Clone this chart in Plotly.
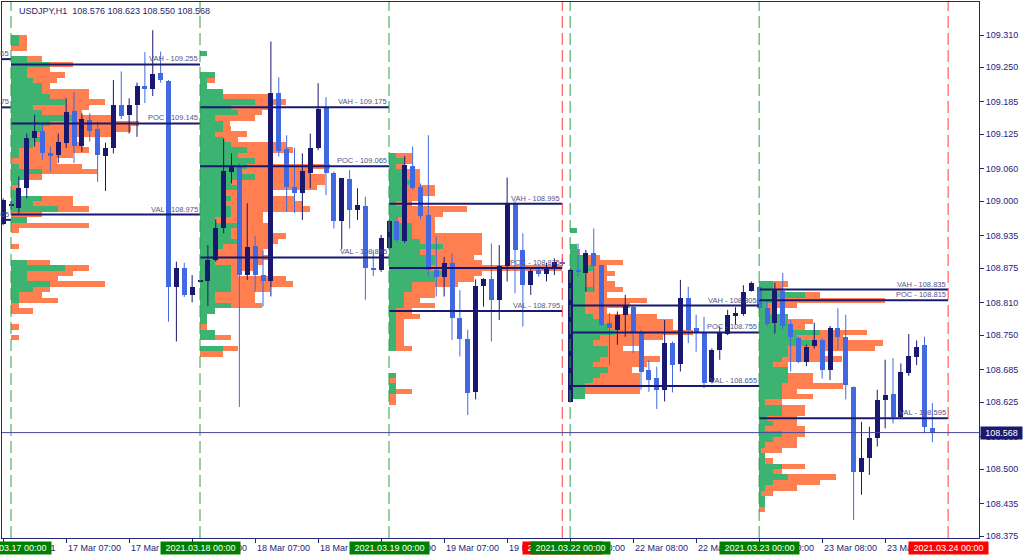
import plotly.graph_objects as go
import numpy as np

# ---------------- data ----------------
SYMBOL = "USDJPY,H1"
FIRST_BAR = -1          # bar index of first candle (0 = 2021.03.17 00:00)

bar_open = [108.957, 108.990, 108.987, 109.024, 109.117, 109.130, 109.089, 109.086, 109.108, 109.169,
            109.102, 109.151, 109.134, 109.085, 109.099, 109.179, 109.160, 109.179, 109.215, 109.210,
            109.240, 109.225, 108.839, 108.875, 108.825, 108.850, 108.850, 108.891, 108.949, 109.055,
            109.066, 108.862, 108.916, 108.862, 108.850, 109.201, 109.097, 109.027, 109.016, 109.053,
            109.099, 109.173, 109.052, 108.962, 109.041, 108.983, 108.991, 108.875, 108.872, 108.912,
            108.963, 108.926, 109.066, 109.027, 108.975, 108.872, 108.859, 108.884, 108.781, 108.742,
            108.643, 108.842, 108.854, 108.816, 108.878, 108.996, 108.908, 108.844, 108.871, 108.864,
            108.875, 108.886, 108.626, 108.872, 108.865, 108.903, 108.880, 108.772, 108.760, 108.788,
            108.803, 108.756, 108.685, 108.669, 108.648, 108.736, 108.696, 108.819, 108.763, 108.756,
            108.663, 108.722, 108.752, 108.786, 108.789, 108.833, 108.840, 108.800, 108.772, 108.833,
            108.771, 108.744, 108.700, 108.730, 108.741, 108.685, 108.763, 108.746, 108.653, 108.495,
            108.520, 108.557, 108.629, 108.640, 108.598, 108.680, 108.710, 108.732, 108.576]
bar_high = [109.005, 109.000, 109.046, 109.126, 109.161, 109.145, 109.102, 109.126, 109.192, 109.204,
            109.164, 109.164, 109.148, 109.109, 109.226, 109.242, 109.192, 109.221, 109.278, 109.319,
            109.279, 109.226, 108.887, 108.885, 108.862, 108.852, 108.918, 108.966, 109.117, 109.089,
            109.071, 108.996, 108.935, 108.909, 109.298, 109.231, 109.123, 109.099, 109.089, 109.126,
            109.220, 109.194, 109.055, 109.043, 109.058, 109.024, 109.008, 108.909, 108.937, 108.965,
            108.971, 109.084, 109.102, 109.033, 109.123, 108.934, 108.896, 108.903, 108.834, 108.760,
            108.854, 108.856, 108.921, 108.918, 109.044, 109.000, 108.940, 108.875, 108.878, 108.885,
            108.893, 108.893, 108.874, 108.921, 108.909, 108.949, 108.880, 108.791, 108.794, 108.825,
            108.806, 108.760, 108.704, 108.691, 108.778, 108.738, 108.853, 108.840, 108.788, 108.784,
            108.725, 108.766, 108.797, 108.802, 108.843, 108.850, 108.841, 108.816, 108.848, 108.866,
            108.778, 108.747, 108.732, 108.773, 108.744, 108.767, 108.800, 108.788, 108.654, 108.588,
            108.579, 108.648, 108.704, 108.707, 108.697, 108.752, 108.740, 108.747, 108.623]
bar_low = [108.955, 108.985, 108.977, 109.005, 109.102, 109.077, 109.055, 109.071, 109.099, 109.071,
           109.092, 109.111, 109.036, 109.019, 109.089, 109.153, 109.126, 109.120, 109.183, 109.196,
           109.221, 108.775, 108.738, 108.821, 108.811, 108.849, 108.804, 108.887, 108.940, 109.033,
           108.616, 108.853, 108.831, 108.803, 108.822, 109.083, 108.980, 108.978, 108.965, 109.024,
           109.095, 109.011, 108.949, 108.910, 108.949, 108.965, 108.816, 108.860, 108.868, 108.910,
           108.924, 108.922, 109.021, 108.966, 108.859, 108.822, 108.822, 108.741, 108.710, 108.601,
           108.630, 108.803, 108.738, 108.778, 108.850, 108.828, 108.766, 108.825, 108.859, 108.850,
           108.862, 108.878, 108.624, 108.859, 108.831, 108.831, 108.767, 108.694, 108.732, 108.747,
           108.716, 108.648, 108.644, 108.612, 108.626, 108.643, 108.682, 108.735, 108.719, 108.651,
           108.660, 108.704, 108.750, 108.769, 108.786, 108.831, 108.798, 108.766, 108.753, 108.761,
           108.682, 108.698, 108.692, 108.725, 108.669, 108.666, 108.722, 108.630, 108.405, 108.452,
           108.489, 108.542, 108.576, 108.585, 108.595, 108.674, 108.694, 108.567, 108.550]
bar_close = [109.002, 108.995, 109.024, 109.117, 109.130, 109.090, 109.085, 109.111, 109.167, 109.103,
             109.153, 109.131, 109.086, 109.099, 109.179, 109.158, 109.179, 109.215, 109.210, 109.237,
             109.226, 108.839, 108.875, 108.825, 108.839, 108.851, 108.891, 108.949, 109.056, 109.066,
             108.862, 108.915, 108.862, 108.850, 109.201, 109.094, 109.027, 109.016, 109.056, 109.100,
             109.171, 109.052, 108.962, 109.043, 108.983, 108.993, 108.875, 108.872, 108.931, 108.963,
             108.927, 109.067, 109.024, 108.972, 108.872, 108.859, 108.884, 108.781, 108.742, 108.641,
             108.842, 108.854, 108.816, 108.878, 108.997, 108.908, 108.844, 108.870, 108.864, 108.876,
             108.886, 108.884, 108.871, 108.867, 108.903, 108.878, 108.769, 108.763, 108.788, 108.806,
             108.756, 108.682, 108.666, 108.648, 108.736, 108.694, 108.819, 108.760, 108.756, 108.660,
             108.722, 108.753, 108.788, 108.792, 108.831, 108.848, 108.800, 108.771, 108.834, 108.767,
             108.747, 108.699, 108.727, 108.740, 108.685, 108.763, 108.747, 108.657, 108.495, 108.520,
             108.557, 108.628, 108.638, 108.598, 108.682, 108.711, 108.728, 108.578, 108.568]

# time axis labels (bar index -> text)
tick_bars = [7, 15, 23, 31, 39, 47, 55, 63, 71, 79, 87, 95, 103, 111]
tick_texts = ["17 Mar 07:00", "17 Mar 15:00", "17 Mar 23:00", "18 Mar 07:00", "18 Mar 15:00",
              "18 Mar 23:00", "19 Mar 07:00", "19 Mar 15:00", "22 Mar 00:00", "22 Mar 08:00",
              "22 Mar 16:00", "23 Mar 00:00", "23 Mar 08:00", "23 Mar 16:00"]
first_label = "16 Mar 2021"
session_bars = [0, 24, 48, 71, 95]
session_texts = ["2021.03.17 00:00", "2021.03.18 00:00", "2021.03.19 00:00",
                 "2021.03.22 00:00", "2021.03.23 00:00"]
end_bars = [70, 119]
end_texts = ["2021.03.19 22:00", "2021.03.24 00:00"]

# price axis labels
price_ticks = [109.310, 109.250, 109.185, 109.125, 109.060, 109.000, 108.935, 108.875,
               108.810, 108.750, 108.685, 108.625, 108.560, 108.500, 108.435, 108.375]

# volume profiles: rows of 0.01 from top level downward, green (buy) and total volume
prof17_green = [8, 8, 0, 0, 16, 39, 16, 16, 22, 31, 31, 39, 54, 22, 31, 62, 39, 31, 22, 31,
                22, 8, 8, 0, 8, 31, 16, 8, 0, 8, 31, 22, 47, 0, 16, 0, 0, 0, 0, 0,
                0, 0, 16, 54, 16, 16, 39, 22, 8, 8, 0, 0, 0, 0, 0, 0, 0]
prof17_total = [16, 16, 16, 0, 31, 62, 39, 54, 46, 39, 78, 78, 94, 78, 71, 101, 128, 120, 102, 62,
                71, 78, 62, 46, 71, 86, 31, 8, 8, 8, 62, 62, 78, 31, 16, 78, 8, 0, 0, 8,
                0, 0, 39, 78, 62, 47, 94, 39, 31, 47, 8, 22, 0, 0, 8, 0, 8]
prof18_green = [7, 0, 0, 0, 15, 7, 7, 23, 23, 55, 31, 38, 15, 23, 23, 15, 23, 31, 47, 38,
                55, 47, 38, 55, 31, 38, 23, 31, 23, 31, 31, 15, 38, 31, 31, 38, 23, 15, 15, 15,
                31, 31, 31, 31, 31, 15, 15, 31, 15, 7, 7, 0, 15, 15, 0, 23, 0]
prof18_total = [7, 0, 0, 0, 15, 15, 7, 23, 70, 86, 70, 62, 55, 30, 31, 47, 38, 86, 93, 70,
                70, 130, 110, 125, 125, 117, 70, 94, 103, 110, 63, 63, 70, 70, 86, 78, 70, 63, 70, 63,
                55, 38, 86, 93, 70, 55, 55, 62, 15, 7, 7, 7, 15, 31, 0, 38, 23]
prof19_green = [7, 15, 7, 15, 15, 23, 15, 15, 15, 7, 15, 15, 7, 23, 23, 23, 31, 54, 31, 46,
                46, 38, 54, 46, 23, 23, 15, 15, 15, 7, 7, 7, 7, 7, 7, 7, 7, 0, 0, 0,
                0, 7, 0, 7, 7, 0, 0]
prof19_total = [23, 23, 15, 31, 31, 31, 46, 46, 31, 23, 78, 54, 46, 46, 46, 93, 93, 93, 93, 85,
                93, 173, 93, 85, 69, 46, 46, 31, 46, 23, 31, 15, 15, 15, 15, 15, 23, 0, 0, 0,
                0, 7, 7, 7, 23, 7, 7]
prof22_green = [7, 0, 0, 7, 7, 15, 15, 23, 15, 15, 15, 23, 15, 15, 15, 15, 23, 30, 38, 45,
                30, 23, 38, 38, 30, 23, 38, 30, 23, 15, 15, 15]
prof22_total = [7, 0, 0, 7, 10, 30, 53, 37, 45, 37, 45, 53, 37, 77, 60, 37, 87, 103, 103, 123,
                93, 70, 53, 70, 90, 77, 62, 70, 70, 70, 70, 15]
prof23_green = [14, 14, 46, 14, 8, 8, 29, 29, 29, 61, 38, 54, 29, 29, 23, 14, 29, 29, 29, 23,
                23, 23, 6, 23, 23, 8, 14, 6, 23, 14, 6, 1, 6, 6, 23, 14, 29, 14, 6, 1,
                6, 6, 0]
prof23_total = [29, 23, 61, 126, 38, 14, 29, 54, 46, 108, 84, 124, 116, 61, 83, 29, 29, 54, 54, 84,
                38, 54, 23, 46, 46, 38, 38, 46, 46, 38, 38, 23, 6, 14, 46, 23, 77, 61, 38, 14,
                6, 6, 6]

profiles = [
    dict(start=0, end=24, top=109.305, green=prof17_green, total=prof17_total,
         vah=109.255, poc=109.145, val=108.975),
    dict(start=24, end=48, top=109.275, green=prof18_green, total=prof18_total,
         vah=109.175, poc=109.065, val=108.895),
    dict(start=48, end=70, top=109.085, green=prof19_green, total=prof19_total,
         vah=108.995, poc=108.875, val=108.795),
    dict(start=71, end=95, top=108.945, green=prof22_green, total=prof22_total,
         vah=108.805, poc=108.755, val=108.655),
    dict(start=95, end=119, top=108.845, green=prof23_green, total=prof23_total,
         vah=108.835, poc=108.815, val=108.595),
]
# previous session (16 Mar) levels, only their right ends are on the chart
prev_levels = [("VAH", 109.265), ("POC", 109.175), ("VAL", 108.965)]

# ---------------- styling ----------------
NAVY = "#191970"
BLUE = "#4169e1"
GREEN = "#3cb371"
CORAL = "#ff7f50"
AXIS = "#24247a"
LBL = "#555585"
FONT = "Liberation Sans, Arial, sans-serif"
PX_PER_BAR = 7.875
VOL_TO_BARS = 1.0 / PX_PER_BAR
ROW = 0.01
BODY_W = 5.0 / PX_PER_BAR

o = np.array(bar_open); h = np.array(bar_high); l = np.array(bar_low); c = np.array(bar_close)
idx = np.arange(len(o)) + FIRST_BAR
bull = c >= o

fig = go.Figure()

# volume profiles
for p in profiles:
    n = len(p["total"])
    levels = np.round(p["top"] - ROW * np.arange(n), 3)
    tot = np.array(p["total"], float) * VOL_TO_BARS
    grn = np.array(p["green"], float) * VOL_TO_BARS
    fig.add_trace(go.Bar(orientation="h", y=levels, x=tot, base=p["start"], width=ROW * 1.02,
                         marker=dict(color=CORAL, line=dict(width=0)), hoverinfo="skip"))
    fig.add_trace(go.Bar(orientation="h", y=levels, x=grn, base=p["start"], width=ROW * 1.02,
                         marker=dict(color=GREEN, line=dict(width=0)), hoverinfo="skip"))

# wicks
for mask, col in ((bull, NAVY), (~bull, BLUE)):
    xs, ys = [], []
    for i in np.where(mask)[0]:
        xs += [idx[i], idx[i], None]
        ys += [l[i], h[i], None]
    fig.add_trace(go.Scatter(x=xs, y=ys, mode="lines", line=dict(color=col, width=1),
                             hoverinfo="skip"))

# bodies
lo = np.minimum(o, c)
hgt = np.maximum(np.abs(c - o), 0.0019)
for mask, col in ((bull, NAVY), (~bull, BLUE)):
    fig.add_trace(go.Bar(x=idx[mask], y=hgt[mask], base=lo[mask], width=BODY_W,
                         marker=dict(color=col, line=dict(width=0)), hoverinfo="skip"))

shapes = []
annotations = []

# VAH / POC / VAL lines
for p in profiles:
    for name in ("vah", "poc", "val"):
        v = p[name]
        shapes.append(dict(type="line", xref="x", yref="y", x0=p["start"], x1=p["end"],
                           y0=v, y1=v, line=dict(color=NAVY, width=2), layer="above"))
        annotations.append(dict(xref="x", yref="y", x=p["end"], y=v, xanchor="right",
                                yanchor="bottom", yshift=-1, showarrow=False,
                                text=f"{name.upper()} - {v:.3f}",
                                font=dict(family=FONT, size=7.5, color=LBL)))
for name, v in prev_levels:
    shapes.append(dict(type="line", xref="x", yref="y", x0=FIRST_BAR - 1, x1=0,
                       y0=v, y1=v, line=dict(color=NAVY, width=2), layer="above"))
    annotations.append(dict(xref="x", yref="y", x=0, y=v, xanchor="right", yanchor="bottom",
                            yshift=-1, showarrow=False, text=f"{name} - {v:.3f}",
                            font=dict(family=FONT, size=7.5, color=LBL)))

# session separators
for b in session_bars:
    shapes.append(dict(type="line", xref="x", yref="paper", x0=b, x1=b, y0=0, y1=1,
                       line=dict(color="#2ea043", width=1, dash="12px,5px"), layer="above"))
for b in end_bars:
    shapes.append(dict(type="line", xref="x", yref="paper", x0=b, x1=b, y0=0, y1=1,
                       line=dict(color="#ff3b3b", width=1, dash="12px,5px"), layer="above"))

# current price line
last = c[-1]
shapes.append(dict(type="line", xref="paper", yref="y", x0=0, x1=1, y0=last, y1=last,
                   line=dict(color="#45459a", width=1), layer="above"))

# bottom time labels
annotations.append(dict(xref="x", yref="paper", x=FIRST_BAR, y=0, xanchor="left",
                        yanchor="middle", yshift=-10, showarrow=False, text=first_label,
                        font=dict(family=FONT, size=9, color=AXIS)))
for b, t in zip(tick_bars, tick_texts):
    annotations.append(dict(xref="x", yref="paper", x=b, y=0, xanchor="left",
                            yanchor="middle", yshift=-10, showarrow=False, text=t,
                            font=dict(family=FONT, size=9, color=AXIS)))
for b, t in zip(end_bars[:1], end_texts[:1]):
    annotations.append(dict(xref="x", yref="paper", x=b, y=0, xanchor="center",
                            yanchor="middle", yshift=-10, showarrow=False, text=t,
                            bgcolor="#ff0000", width=79, height=12, borderpad=0,
                            font=dict(family=FONT, size=9, color="white")))
for b, t in zip(session_bars, session_texts):
    annotations.append(dict(xref="x", yref="paper", x=b, y=0, xanchor="center",
                            yanchor="middle", yshift=-10, showarrow=False, text=t,
                            bgcolor="#008000", width=79, height=12, borderpad=0,
                            font=dict(family=FONT, size=9, color="white")))
for b, t in zip(end_bars[1:], end_texts[1:]):
    annotations.append(dict(xref="x", yref="paper", x=b, y=0, xanchor="center",
                            yanchor="middle", yshift=-10, showarrow=False, text=t,
                            bgcolor="#ff0000", width=79, height=12, borderpad=0,
                            font=dict(family=FONT, size=9, color="white")))

# current price tag
annotations.append(dict(xref="paper", yref="y", x=1, y=last, xanchor="left", xshift=1,
                        yanchor="middle", showarrow=False, text=f"{last:.3f}",
                        bgcolor=NAVY, width=41, height=12, borderpad=0,
                        font=dict(family=FONT, size=9, color="white")))

# header
annotations.append(dict(xref="paper", yref="paper", x=0, y=1, xanchor="left", xshift=15,
                        yanchor="middle", yshift=-9, showarrow=False,
                        text=f"{SYMBOL}  {o[-1]:.3f} {h[-1]:.3f} {l[-1]:.3f} {c[-1]:.3f}",
                        font=dict(family=FONT, size=9, color="#26266e")))

x_lo = -9.0 / PX_PER_BAR
x_hi = x_lo + 977.0 / PX_PER_BAR

fig.update_layout(
    width=1024, height=559,
    margin=dict(l=2, r=45, t=2, b=21),
    paper_bgcolor="white", plot_bgcolor="white",
    barmode="overlay", bargap=0, showlegend=False, hovermode=False,
    shapes=shapes, annotations=annotations,
    xaxis=dict(range=[x_lo, x_hi], showgrid=False, zeroline=False, showline=True,
               linecolor=AXIS, linewidth=1, mirror=True, ticks="outside", ticklen=4,
               tickcolor=AXIS, tickvals=[FIRST_BAR] + tick_bars, showticklabels=False),
    yaxis=dict(range=[108.3713, 109.3716], side="right", showgrid=False, zeroline=False,
               showline=True, linecolor=AXIS, linewidth=1, mirror=True, ticks="outside",
               ticklen=4, tickcolor=AXIS, tickvals=price_ticks,
               ticktext=[f"{v:.3f}" for v in price_ticks],
               tickfont=dict(family=FONT, size=9, color=AXIS)),
)

fig.write_html("out.html", config={"displayModeBar": False},
               post_script="document.body.style.margin='0';document.body.style.overflow='hidden';")
